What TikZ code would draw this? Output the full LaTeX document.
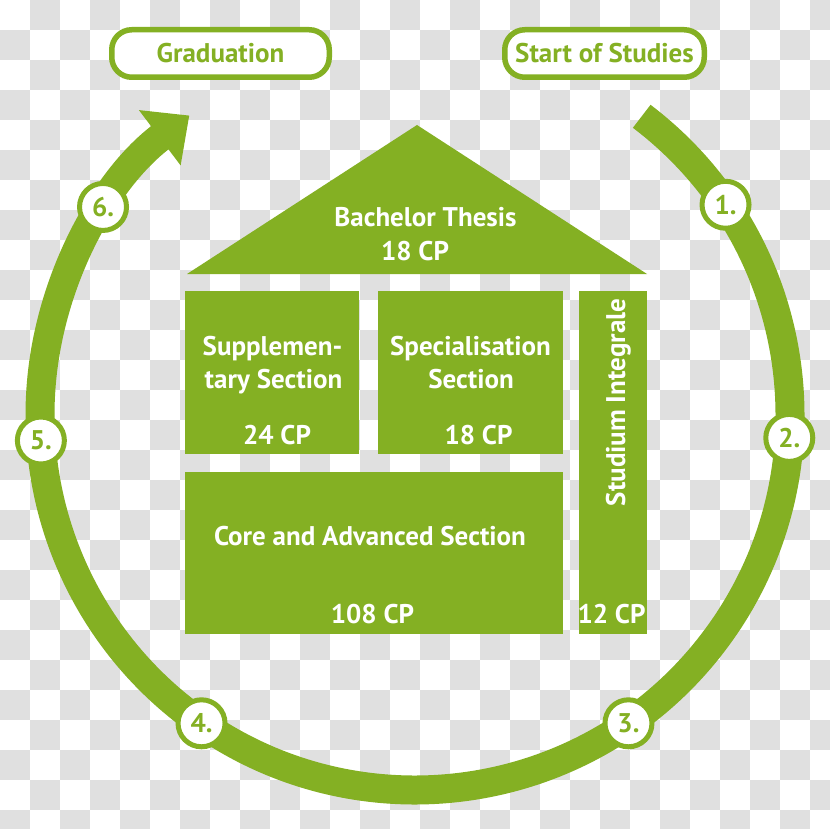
\documentclass[tikz,border=0pt]{standalone}
\usepackage{fontspec}
\setmainfont{PT Sans}
\usetikzlibrary{arrows.meta}
\definecolor{unigreen}{RGB}{132,176,35}
\definecolor{chk}{RGB}{224,224,224}

\begin{document}
\begin{tikzpicture}[x=1pt,y=-1pt,
		txt/.style={text=white, font=\fontsize{27}{33}\selectfont\bfseries, inner sep=0pt},
		gtxt/.style={txt, text=unigreen},
		tag/.style={gtxt, draw=unigreen, fill=white, line width=5.5pt, rounded corners=20pt, minimum height=47.5pt},
		num/.style={gtxt, circle, draw=unigreen, fill=white, line width=5pt, minimum size=47pt},
		ring/.style={draw=unigreen, line width=29pt}]
		\useasboundingbox (0,0) rectangle (830,829);

		% checkered background
		\fill[white] (0,0) rectangle (830,829);
		\begin{scope}
			\clip (0,0) rectangle (830,829);
			\foreach \i in {0,...,27}
				\foreach \j in {0,...,27}{
					\pgfmathtruncatemacro\odd{mod(\i+\j,2)}
					\ifnum\odd=1 \fill[chk] (30*\i,30*\j) rectangle +(30,30); \fi
				}
		\end{scope}

		\node[tag, minimum width=217.5pt] (grad) at (220.5,53.5) {Graduation};
		\node[tag, minimum width=199.5pt] (start) at (604.5,53.5) {Start of Studies};

		% the cycle
		\coordinate (mid) at (415,415);
		\draw[ring, -{Triangle[length=37pt,width=67pt]}] ([shift={(-52.8:375)}]mid) arc[start angle=-52.8, end angle=233, radius=375];
		\foreach \a/\n in {-34.1/1, 3.5/2, 55.3/3, 124.7/4, 176.1/5, 213.7/6}
			\node[num] (n\n) at ([shift={(\a:375)}]mid) {\n.};

		% the house
		\fill[unigreen] (187,274) -- (417,125) -- (647,274) -- cycle;
		\fill[unigreen] (185,291) rectangle (359,454);
		\fill[unigreen] (378,291) rectangle (563,454);
		\fill[unigreen] (185,472) rectangle (563,634);
		\fill[unigreen] (579,291) rectangle (647,634);

		\node[txt, anchor=base] (thesis) at (425.5,227) {Bachelor Thesis};
		\node[txt, anchor=base] (thesiscp) at (415,260) {18 CP};
		\node[txt, anchor=base] (supp) at (272.5,355) {Supplemen-};
		\node[txt, anchor=base] (supp2) at (273.5,388) {tary Section};
		\node[txt, anchor=base] (suppcp) at (277,444) {24 CP};
		\node[txt, anchor=base] (spec) at (470.5,355) {Specialisation};
		\node[txt, anchor=base] (spec2) at (471,388) {Section};
		\node[txt, anchor=base] (speccp) at (478.5,444) {18 CP};
		\node[txt, anchor=base] (core) at (370,545) {Core and Advanced Section};
		\node[txt, anchor=base] (corecp) at (372.5,623) {108 CP};
		\node[txt, anchor=base, rotate=90] (integ) at (625,402.5) {Studium Integrale};
		\node[txt, anchor=base] (integcp) at (611.5,623) {12 CP};
\end{tikzpicture}
\end{document}
